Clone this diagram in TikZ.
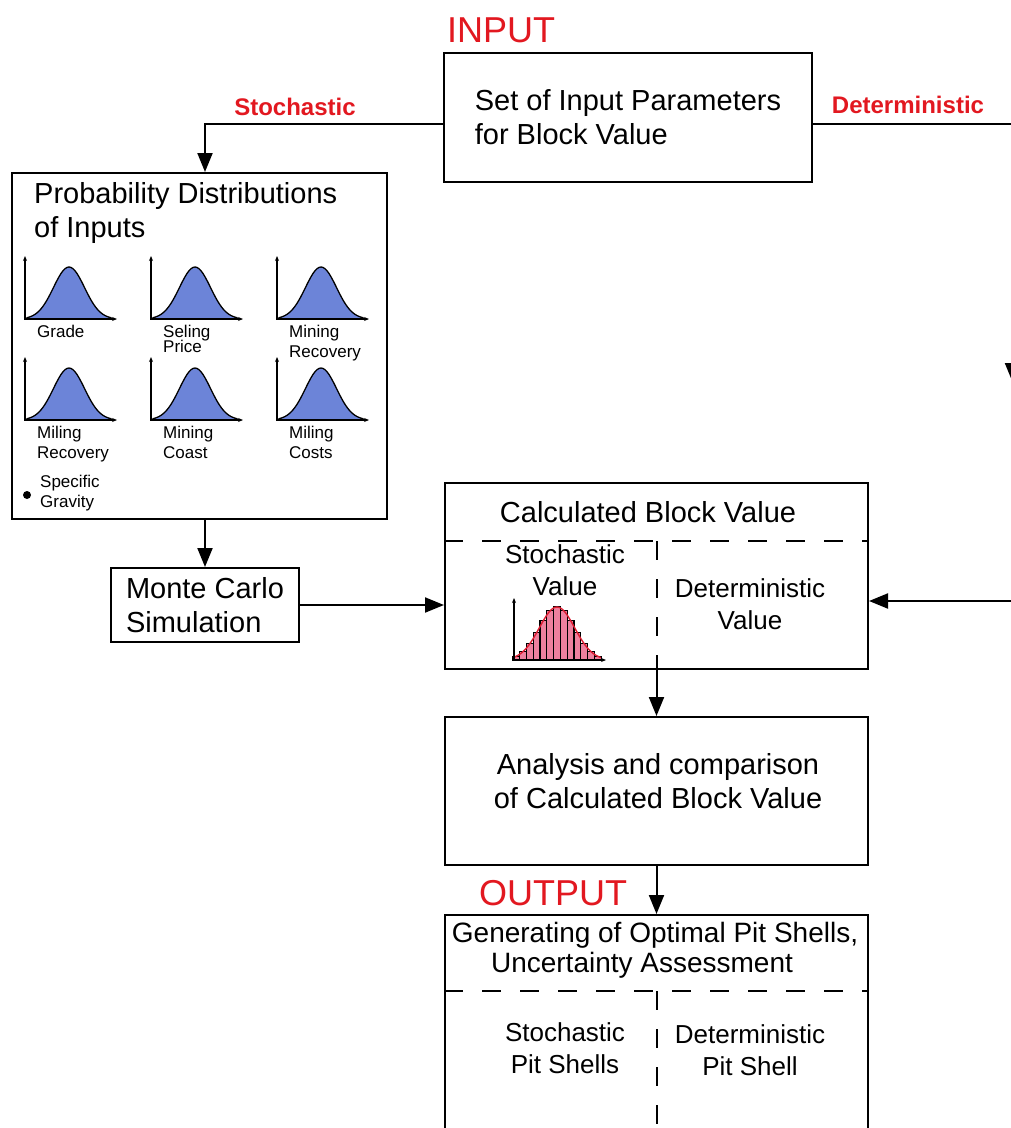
\documentclass[tikz,border=0pt]{standalone}
\usepackage{fontspec}
\setmainfont{Liberation Sans}
\usetikzlibrary{arrows.meta}
\definecolor{inred}{RGB}{226,24,32}
\definecolor{bellblue}{RGB}{108,132,216}
\definecolor{histpink}{RGB}{238,128,158}
\definecolor{histred}{RGB}{222,30,50}
\tikzset{
  box/.style={draw, line width=2pt, inner sep=0pt},
  flow/.style={line width=2pt, -{Triangle[length=19pt,width=15pt]}},
  divider/.style={line width=2pt, dash pattern=on 19pt off 19pt},
  bigtxt/.style={font=\fontsize{29}{34}\selectfont, align=left, inner sep=0pt},
  midtxt/.style={font=\fontsize{26}{32}\selectfont, align=center, inner sep=0pt},
  smalltxt/.style={font=\fontsize{17}{20}\selectfont, align=left, inner sep=0pt},
  redtag/.style={text=inred, font=\fontsize{24}{28}\selectfont\bfseries, inner sep=0pt},
  headtag/.style={text=inred, font=\fontsize{36}{40}\selectfont, inner sep=0pt},
  axis/.style={line width=1.2pt, {Stealth[length=5pt,width=4pt]}-{Stealth[length=5pt,width=4pt]}}
}
\begin{document}
\begin{tikzpicture}[x=1pt,y=-1pt]
  \useasboundingbox (0,0) rectangle (1011,1128);
  \clip (0,0) rectangle (1011,1128);
  % boxes
  \node[box, minimum width=368pt, minimum height=129pt, bigtxt] (input) at (628,117.5) {Set of Input Parameters\\for Block Value};
  \node[box, minimum width=375pt, minimum height=346pt] (prob) at (199.5,346) {};
  \node[box, minimum width=188pt, minimum height=74pt, bigtxt] (mc) at (205,605) {Monte Carlo\\Simulation};
  \node[box, minimum width=423pt, minimum height=186pt] (calc) at (656.5,576) {};
  \node[box, minimum width=423pt, minimum height=148pt] (analysis) at (656.5,791) {};
  \node[box, minimum width=423pt, minimum height=270pt] (output) at (656.5,1050) {};
  % texts
  \node[headtag] (intag) at (501,30) {INPUT};
  \node[redtag] (stochtag) at (295,107) {Stochastic};
  \node[redtag] (dettag) at (908,105) {Deterministic};
  \node[bigtxt, anchor=north west] (probtitle) at (34,182) {Probability Distributions\\of Inputs};
  \node[bigtxt] (calctitle) at (648,512) {Calculated Block Value};
  \node[midtxt] (stochval) at (565,570) {Stochastic\\Value};
  \node[midtxt] (detval) at (750,604) {Deterministic\\Value};
  \node[bigtxt, align=center] (analysistxt) at (658,781) {Analysis and comparison\\of Calculated Block Value};
  \node[headtag] (outtag) at (553,893) {OUTPUT};
  \node[font=\fontsize{28}{30}\selectfont, align=center, inner sep=0pt] (outtitle) at (655,950) {Generating of Optimal Pit Shells,\\Uncertainty Assessment\hspace*{26pt}};
  \node[midtxt] (stochpit) at (565,1048) {Stochastic\\Pit Shells};
  \node[midtxt] (detpit) at (750,1050) {Deterministic\\Pit Shell};
  % dashed dividers
  \coordinate (calcsplit) at (657,541);
  \coordinate (outsplit) at (657,991);
  \draw[divider] (calc.west |- calcsplit) -- (calc.east |- calcsplit);
  \draw[divider] (calcsplit) -- (calc.south -| calcsplit);
  \draw[divider] (output.west |- outsplit) -- (output.east |- outsplit);
  \draw[divider] (outsplit) -- (output.south -| outsplit);
  % connectors
  \coordinate (dtop) at (1012.5,124);
  \coordinate (dmid) at (1012.5,382);
  \coordinate (dbot) at (1012.5,601);
  \draw[flow] ([yshift=-6.5pt]input.west) -| (prob.north -| mc.north);
  \draw[flow] (prob.south -| mc.north) -- (mc.north);
  \draw[flow] (mc.east) -- (mc.east -| calc.west);
  \draw[line width=2pt] ([yshift=-6.5pt]input.east) -- (dtop);
  \draw[flow] (dtop) -- (dmid);
  \draw[flow] (dmid) -- (dbot) -- (dbot -| calc.east);
  \draw[flow] (calc.south) -- (analysis.north);
  \draw[flow] (analysis.south) -- (output.north);
  % input distributions
  \foreach \gx/\gy/\glab in {25/319/Grade, 151/319/{Seling\\[-5pt]Price}, 277/319/{Mining\\Recovery},
                             25/420/{Miling\\Recovery}, 151/420/{Mining\\Coast}, 277/420/{Miling\\Costs}} {
    \draw[fill=bellblue, line width=1.3pt] (\gx+2,\gy) -- plot[domain=-42:42, samples=43, smooth]
      ({\gx+44+\x}, {\gy-52*exp(-((\x)*(\x))/480)}) -- (\gx+86,\gy);
    \draw[axis] (\gx,\gy-63) -- (\gx,\gy) -- (\gx+92,\gy);
    \node[smalltxt, anchor=north west] (lab-\gx-\gy) at (\gx+12,\gy+6) {\glab};
  }
  \node[circle, fill, inner sep=0pt, minimum size=8pt] (sgdot) at (27,495) {};
  \node[smalltxt, anchor=west] (sg) at (40,493) {Specific\\Gravity};
  % stochastic histogram
  \foreach \i in {-6,...,6}
    \draw[fill=histpink, line width=1.2pt] ({557+(\i-0.5)*6.8},660) rectangle ({557+(\i+0.5)*6.8},{660-53*exp(-((\i)*(\i))/13.5)});
  \draw[histred, line width=1.4pt] plot[domain=-44:44, samples=45, smooth] ({557+\x},{660-53*exp(-((\x)*(\x))/626)});
  \draw[axis] (514,598) -- (514,660) -- (606,660);
\end{tikzpicture}
\end{document}
